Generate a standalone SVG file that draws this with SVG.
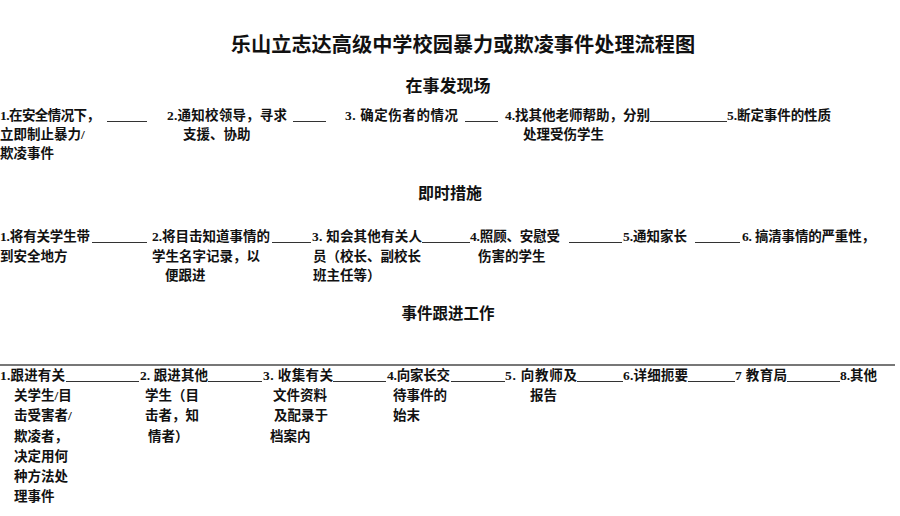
<svg xmlns="http://www.w3.org/2000/svg" width="900" height="516" viewBox="0 0 900 516">
<style>
text{font-family:"Liberation Serif","Noto Sans CJK SC",serif;fill:#111;font-weight:bold}
.t{font-size:20.2px;text-anchor:middle}
.h{font-size:16px;text-anchor:middle}
.b{font-size:13.5px}
.u{stroke:#333;stroke-width:1.2}
.rule{stroke:#777;stroke-width:2}
</style>
<rect width="900" height="516" fill="#fff"/>
<g id="title"><text class="t" x="463" y="52">乐山立志达高级中学校园暴力或欺凌事件处理流程图</text></g>
<g id="sec1"><text class="h" x="448" y="92" style="font-size:17px">在事发现场</text></g>
<g id="sec2"><text class="h" x="450" y="199">即时措施</text></g>
<g id="sec3"><text class="h" x="448" y="319" style="font-size:15.5px">事件跟进工作</text></g>

<g id="s1n1"><text class="b" x="0" y="120" textLength="100">1.在安全情况下，</text><text class="b" x="0" y="139">立即制止暴力/</text><text class="b" x="0" y="158">欺凌事件</text></g>
<g id="s1n2"><text class="b" x="167" y="120" textLength="120">2.通知校领导，寻求</text><text class="b" x="183" y="139">支援、协助</text></g>
<g id="s1n3"><text class="b" x="345" y="120" textLength="113">3. 确定伤者的情况</text></g>
<g id="s1n4"><text class="b" x="505" y="120" textLength="145">4.找其他老师帮助，分别</text><text class="b" x="523" y="139">处理受伤学生</text></g>
<g id="s1n5"><text class="b" x="727" y="120" textLength="104">5.断定事件的性质</text></g>

<g id="s2n1"><text class="b" x="0" y="241" textLength="90">1.将有关学生带</text><text class="b" x="0" y="261">到安全地方</text></g>
<g id="s2n2"><text class="b" x="152" y="241" textLength="118">2.将目击知道事情的</text><text class="b" x="152" y="261">学生名字记录，以</text><text class="b" x="165" y="280">便跟进</text></g>
<g id="s2n3"><text class="b" x="312" y="241" textLength="110">3. 知会其他有关人</text><text class="b" x="313" y="261">员（校长、副校长</text><text class="b" x="313" y="280">班主任等）</text></g>
<g id="s2n4"><text class="b" x="470" y="241" textLength="90">4.照顾、安慰受</text><text class="b" x="478" y="261">伤害的学生</text></g>
<g id="s2n5"><text class="b" x="623" y="241" textLength="64">5.通知家长</text></g>
<g id="s2n6"><text class="b" x="742" y="241" textLength="133">6. 搞清事情的严重性，</text></g>

<g id="s3n1"><text class="b" x="0" y="380" textLength="65">1.跟进有关</text><text class="b" x="14" y="400">关学生/目</text><text class="b" x="14" y="420">击受害者/</text><text class="b" x="14" y="441">欺凌者，</text><text class="b" x="14" y="461">决定用何</text><text class="b" x="14" y="481">种方法处</text><text class="b" x="14" y="501">理事件</text></g>
<g id="s3n2"><text class="b" x="140" y="380" textLength="68">2. 跟进其他</text><text class="b" x="145" y="400">学生（目</text><text class="b" x="145" y="420">击者，知</text><text class="b" x="148" y="441">情者）</text></g>
<g id="s3n3"><text class="b" x="263" y="380" textLength="70">3. 收集有关</text><text class="b" x="273" y="400">文件资料</text><text class="b" x="274" y="420">及配录于</text><text class="b" x="270" y="441">档案内</text></g>
<g id="s3n4"><text class="b" x="387" y="380" textLength="63">4.向家长交</text><text class="b" x="393" y="400">待事件的</text><text class="b" x="393" y="420">始末</text></g>
<g id="s3n5"><text class="b" x="505" y="380" textLength="72">5. 向教师及</text><text class="b" x="530" y="400">报告</text></g>
<g id="s3n6"><text class="b" x="623" y="380" textLength="65">6.详细扼要</text></g>
<g id="s3n7"><text class="b" x="735" y="380" textLength="52">7 教育局</text></g>
<g id="s3n8"><text class="b" x="840" y="380" textLength="37">8.其他</text></g>

<g id="connectors">
<line class="u" x1="107" y1="121.5" x2="147" y2="121.5"/>
<line class="u" x1="293" y1="121.5" x2="326" y2="121.5"/>
<line class="u" x1="465" y1="121.5" x2="498" y2="121.5"/>
<line class="u" x1="650" y1="121.5" x2="727" y2="121.5"/>
<line class="u" x1="92" y1="242.5" x2="147" y2="242.5"/>
<line class="u" x1="272" y1="242.5" x2="311" y2="242.5"/>
<line class="u" x1="422" y1="242.5" x2="470" y2="242.5"/>
<line class="u" x1="569" y1="242.5" x2="622" y2="242.5"/>
<line class="u" x1="695" y1="242.5" x2="740" y2="242.5"/>
<line class="rule" x1="0" y1="365" x2="895" y2="365"/>
<line class="u" x1="66" y1="381.5" x2="139" y2="381.5"/>
<line class="u" x1="208" y1="381.5" x2="262" y2="381.5"/>
<line class="u" x1="333" y1="381.5" x2="386" y2="381.5"/>
<line class="u" x1="451" y1="381.5" x2="505" y2="381.5"/>
<line class="u" x1="577" y1="381.5" x2="623" y2="381.5"/>
<line class="u" x1="688" y1="381.5" x2="735" y2="381.5"/>
<line class="u" x1="787" y1="381.5" x2="840" y2="381.5"/>
</g>
</svg>
